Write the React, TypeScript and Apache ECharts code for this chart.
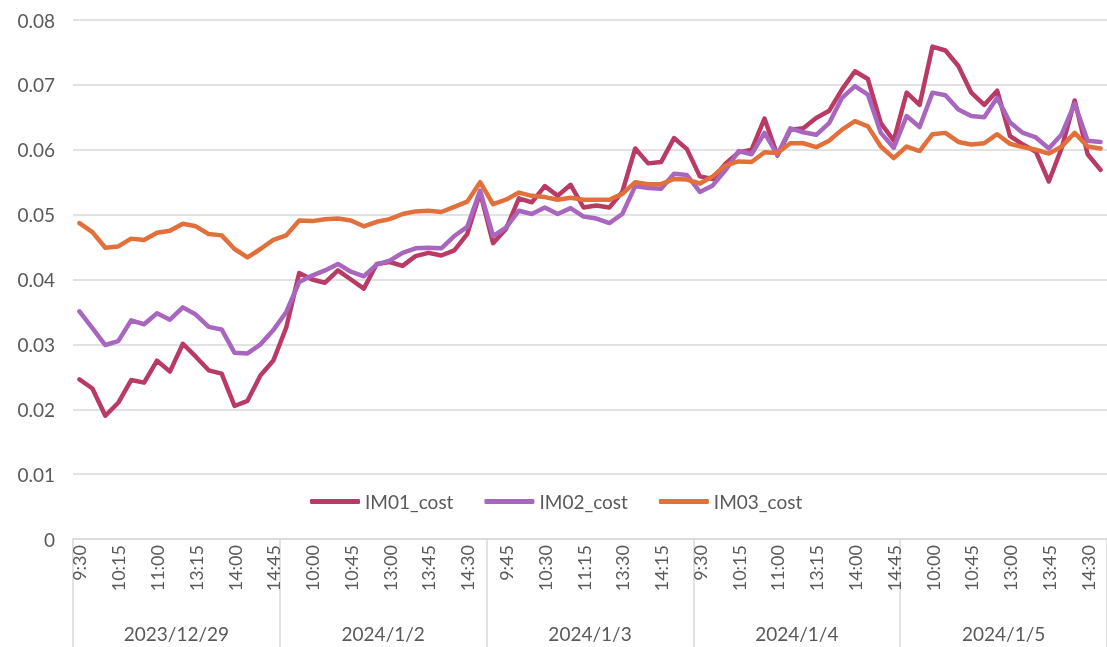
import React, { useEffect, useRef } from "react";
import * as echarts from "echarts";

const days = ["2023/12/29", "2024/1/2", "2024/1/3", "2024/1/4", "2024/1/5"];
const times = ["9:30", "9:45", "10:00", "10:15", "10:30", "10:45", "11:00", "11:15", "13:00", "13:15", "13:30", "13:45", "14:00", "14:15", "14:30", "14:45"];

const im01 = [
  0.0246, 0.0232, 0.0190, 0.0210, 0.0245, 0.0241, 0.0275, 0.0258, 0.0301, 0.0281, 0.0260, 0.0255, 0.0205, 0.0213, 0.0252, 0.0275,
  0.0326, 0.0410, 0.0400, 0.0395, 0.0414, 0.0400, 0.0386, 0.0424, 0.0427, 0.0421, 0.0436, 0.0441, 0.0437, 0.0445, 0.0470, 0.0534,
  0.0456, 0.0478, 0.0525, 0.0519, 0.0544, 0.0529, 0.0546, 0.0511, 0.0514, 0.0511, 0.0535, 0.0602, 0.0579, 0.0581, 0.0618, 0.0601,
  0.0559, 0.0555, 0.0579, 0.0596, 0.0600, 0.0648, 0.0591, 0.0631, 0.0633, 0.0649, 0.0660, 0.0693, 0.0721, 0.0709, 0.0641, 0.0614,
  0.0688, 0.0669, 0.0759, 0.0753, 0.0729, 0.0688, 0.0669, 0.0691, 0.0621, 0.0608, 0.0597, 0.0551, 0.0603, 0.0676, 0.0593, 0.0569,
];
const im02 = [
  0.0351, 0.0325, 0.0299, 0.0305, 0.0337, 0.0331, 0.0348, 0.0338, 0.0357, 0.0346, 0.0327, 0.0323, 0.0287, 0.0286, 0.0300, 0.0322,
  0.0350, 0.0396, 0.0406, 0.0414, 0.0424, 0.0412, 0.0405, 0.0423, 0.0429, 0.0441, 0.0448, 0.0449, 0.0448, 0.0467, 0.0481, 0.0537,
  0.0467, 0.0480, 0.0506, 0.0501, 0.0511, 0.0501, 0.0510, 0.0497, 0.0494, 0.0487, 0.0501, 0.0544, 0.0541, 0.0540, 0.0563, 0.0561,
  0.0535, 0.0545, 0.0569, 0.0598, 0.0593, 0.0626, 0.0592, 0.0633, 0.0627, 0.0623, 0.0641, 0.0680, 0.0698, 0.0685, 0.0626, 0.0603,
  0.0652, 0.0635, 0.0688, 0.0684, 0.0662, 0.0652, 0.0650, 0.0680, 0.0642, 0.0626, 0.0619, 0.0602, 0.0624, 0.0671, 0.0614, 0.0612,
];
const im03 = [
  0.0487, 0.0473, 0.0449, 0.0451, 0.0463, 0.0461, 0.0472, 0.0475, 0.0486, 0.0482, 0.0470, 0.0468, 0.0447, 0.0434, 0.0447, 0.0461,
  0.0468, 0.0491, 0.0490, 0.0493, 0.0494, 0.0491, 0.0482, 0.0489, 0.0493, 0.0501, 0.0505, 0.0506, 0.0504, 0.0512, 0.0520, 0.0550,
  0.0516, 0.0523, 0.0534, 0.0529, 0.0527, 0.0523, 0.0526, 0.0523, 0.0523, 0.0523, 0.0532, 0.0550, 0.0547, 0.0547, 0.0555, 0.0554,
  0.0548, 0.0559, 0.0576, 0.0582, 0.0581, 0.0596, 0.0595, 0.0610, 0.0610, 0.0604, 0.0614, 0.0631, 0.0644, 0.0636, 0.0605, 0.0587,
  0.0605, 0.0598, 0.0624, 0.0626, 0.0612, 0.0608, 0.0610, 0.0624, 0.0609, 0.0604, 0.0600, 0.0594, 0.0605, 0.0626, 0.0605, 0.0602,
];

const seriesNames = ["IM01_cost", "IM02_cost", "IM03_cost"];
const colors = ["#B93A65", "#A966BF", "#E2703A"];

export default function App() {
  const ref = useRef<HTMLDivElement>(null);
  useEffect(() => {
    if (!ref.current) return;
    const chart = echarts.init(ref.current, null, { renderer: "svg" });
    const cats: string[] = [];
    days.forEach((d) => times.forEach((t) => cats.push(d + " " + t)));
    const font = "Lato, 'DejaVu Sans', sans-serif";
    const textColor = "#595959";
    const axisColor = "#D9D9D9";
    const data = [im01, im02, im03];
    chart.setOption({
      animation: false,
      grid: { left: 73, right: 0, top: 20, bottom: 108, containLabel: false },
      legend: {
        left: 305,
        top: 487,
        icon: "roundRect",
        itemWidth: 50,
        itemHeight: 5,
        itemGap: 31,
        textStyle: { color: textColor, fontSize: 19, fontFamily: font },
        data: seriesNames,
      },
      xAxis: [
        {
          type: "category",
          data: cats,
          boundaryGap: true,
          position: "bottom",
          axisLine: { show: true, lineStyle: { color: axisColor, width: 1.5 } },
          axisTick: { show: false },
          axisLabel: {
            interval: 2,
            rotate: 90,
            margin: 6,
            color: textColor,
            fontSize: 18,
            fontFamily: font,
            formatter: (v: string) => v.split(" ")[1],
          },
          splitLine: { show: false },
        },
        {
          type: "category",
          data: days,
          boundaryGap: true,
          position: "bottom",
          axisLine: { show: false },
          axisTick: { show: true, length: 110, interval: 0, lineStyle: { color: axisColor, width: 1.5 } },
          axisLabel: { interval: 0, margin: 85, color: textColor, fontSize: 19, fontFamily: font },
          splitLine: { show: false },
        },
      ],
      yAxis: {
        type: "value",
        min: 0,
        max: 0.08,
        interval: 0.01,
        axisLine: { show: false },
        axisTick: { show: false },
        axisLabel: {
          margin: 18,
          color: textColor,
          fontSize: 19,
          fontFamily: font,
          formatter: (v: number) => (v === 0 ? "0" : v.toFixed(2)),
        },
        splitLine: { lineStyle: { color: axisColor, width: 1.5 } },
      },
      series: data.map((d, i) => ({
        name: seriesNames[i],
        type: "line",
        xAxisIndex: 0,
        data: d,
        symbol: "none",
        showSymbol: false,
        lineStyle: { color: colors[i], width: 4.5, join: "round", cap: "round" },
        itemStyle: { color: colors[i] },
      })),
    });
    return () => chart.dispose();
  }, []);
  return (
    <div
      ref={ref}
      style={{ position: "fixed", left: 0, top: 0, width: 1107, height: 647 }}
    />
  );
}
